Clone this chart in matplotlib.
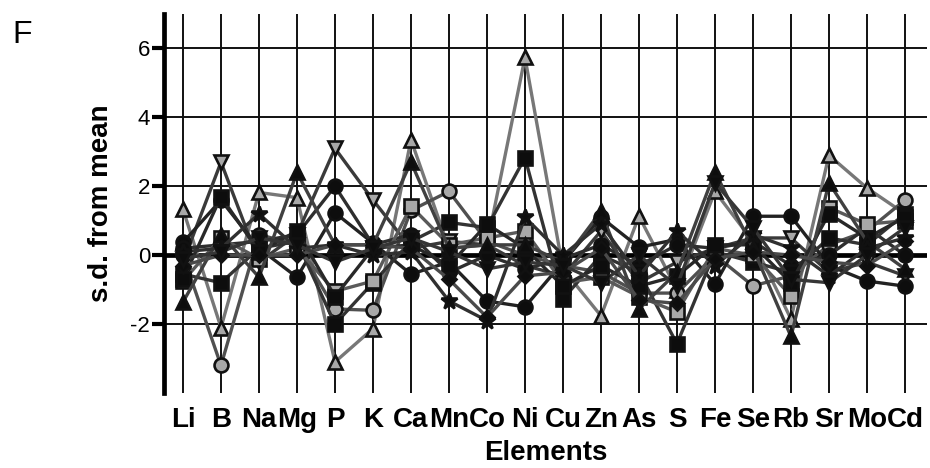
import matplotlib
matplotlib.use("Agg")
import matplotlib.pyplot as plt

plt.rcParams['font.family'] = ['Liberation Sans', 'DejaVu Sans']

elements = ["Li", "B", "Na", "Mg", "P", "K", "Ca", "Mn", "Co", "Ni",
            "Cu", "Zn", "As", "S", "Fe", "Se", "Rb", "Sr", "Mo", "Cd"]

s_tri_up_open = [1.33, -2.1, 1.82, 1.67, -3.1, -2.13, 3.35, 0.2, 0.3, 5.74,
                 -0.4, -1.76, 1.13, -1.0, 1.85, 0.4, -1.85, 2.9, 1.95, 1.2]
s_tri_down_open = [-0.2, 2.7, -0.2, 0.6, 3.1, 1.6, 0.2, 0.4, 0.3, -0.3,
                   -0.6, 0.7, -0.8, -0.2, 0.2, 0.5, 0.5, -0.5, -0.2, -0.6]
s_circle_open = [0.0, -3.2, 0.6, 0.3, -1.56, -1.6, 1.3, 1.85, 0.4, 0.0,
                 -0.3, -0.5, -1.1, -1.1, 0.0, -0.89, -0.6, 0.3, 0.7, 1.6]
s_circle_a = [0.37, 1.6, 0.2, -0.64, 1.23, 0.35, -0.55, -0.2, -1.33, -1.5,
              -0.2, 1.1, 0.23, 0.46, -0.84, 1.13, 1.13, -0.3, -0.75, -0.9]
s_circle_b = [0.2, 0.3, 0.4, 0.6, 2.0, 0.3, 0.6, -0.5, 0.0, -0.4,
              -0.1, 0.3, -0.3, 0.3, 0.2, 0.4, -0.3, 0.0, 0.8, 0.0]
s_square_a = [-0.55, -0.8, 0.2, 0.4, -2.0, -0.8, 0.4, 0.95, 0.8, 2.83,
              -1.27, 0.0, -0.5, -2.57, 0.1, -0.2, -0.5, 0.5, 0.3, 1.2]
s_square_open = [-0.75, 0.5, -0.1, 0.2, -1.05, -0.75, 1.42, 0.3, 0.5, 0.7,
                 -0.8, -0.64, -1.2, -1.65, 0.2, 0.0, -1.18, 1.38, 0.9, 1.0]
s_square_b = [-0.7, 1.7, 0.1, 0.7, -1.2, 0.2, 0.3, -0.3, 0.9, 0.2,
              -0.9, -0.3, -0.9, -0.6, 0.3, 0.3, -0.8, 1.2, 0.5, 1.1]
s_tri_up_fill = [-1.36, 0.6, -0.64, 2.4, 0.3, 0.3, 2.7, 0.2, 0.3, 0.3,
                 -0.2, 1.27, -1.56, -0.5, 2.42, 0.2, -2.36, 2.1, 0.4, -0.4]
s_star = [0.1, 0.2, 1.2, 0.2, 0.3, 0.0, 0.1, -1.33, -1.9, 1.1,
          0.0, 0.9, -0.6, 0.7, -0.3, 0.6, 0.2, -0.6, 0.2, 0.5]
s_diamond = [-0.3, 0.0, 0.0, 0.0, 0.3, 0.3, 0.2, -0.7, -1.8, -0.6,
             -0.5, 0.2, -1.3, -1.4, -0.1, 0.1, 0.0, -0.2, -0.3, 0.4]
s_tri_down_fill = [-0.1, 0.1, 0.5, 0.3, -0.2, 0.2, 0.5, 0.1, -0.4, -0.2,
                   -0.3, -0.8, 0.0, -0.9, 2.1, 0.8, -0.7, -0.8, 0.0, 0.8]

series = [
    (s_tri_up_open, '^', '#777777', '#a8a8a8'),
    (s_tri_down_open, 'v', '#3a3a3a', '#a8a8a8'),
    (s_circle_open, 'o', '#505050', '#a8a8a8'),
    (s_circle_a, 'o', '#222222', '#0d0d0d'),
    (s_circle_b, 'o', '#2e2e2e', '#0d0d0d'),
    (s_square_a, 's', '#333333', '#0d0d0d'),
    (s_square_open, 's', '#5a5a5a', '#a8a8a8'),
    (s_square_b, 's', '#282828', '#0d0d0d'),
    (s_tri_up_fill, '^', '#404040', '#0d0d0d'),
    (s_star, '*', '#303030', '#0d0d0d'),
    (s_diamond, 'D', '#4a4a4a', '#0d0d0d'),
    (s_tri_down_fill, 'v', '#363636', '#0d0d0d'),
]

fig = plt.figure(figsize=(9.3, 4.68), dpi=100)
ax = fig.add_axes([164 / 930, 75 / 468, 763 / 930, 379 / 468])

x = list(range(len(elements)))
ax.set_xlim(-0.5, 19.58)
ax.set_ylim(-4, 7)

for xi in x:
    ax.axvline(xi, color='#111111', lw=1.4, zorder=1)
for yv in [-2, 2, 4, 6]:
    ax.axhline(yv, color='#111111', lw=1.4, zorder=1)
ax.axhline(0, color='black', lw=3.4, zorder=2)

for vals, mk, col, face in series:
    ms = 12 if mk == '*' else (7.5 if mk == 'D' else 10)
    ax.plot(x, vals, color=col, lw=2.4, marker=mk, markersize=ms,
            markerfacecolor=face, markeredgecolor='#111111',
            markeredgewidth=1.9, zorder=3)

for side in ['top', 'right', 'bottom']:
    ax.spines[side].set_visible(False)
ax.spines['left'].set_linewidth(3.4)
ax.spines['left'].set_color('black')

ax.set_yticks([-2, 0, 2, 4, 6])
ax.set_yticklabels(['-2', '0', '2', '4', '6'], fontsize=16)
ax.tick_params(axis='y', length=9, width=3, pad=1, colors='black')
ax.set_xticks(x)
ax.set_xticklabels(elements, fontsize=20, fontweight='bold')
ax.tick_params(axis='x', length=0, pad=10)

ax.set_ylabel('s.d. from mean', fontsize=20, fontweight='bold', labelpad=12)
ax.set_xlabel('Elements', fontsize=20, fontweight='bold', labelpad=5)

fig.text(12 / 930, 1 - 20 / 468, 'F', fontsize=23, ha='left', va='top')

fig.savefig('out.png', dpi=100)
